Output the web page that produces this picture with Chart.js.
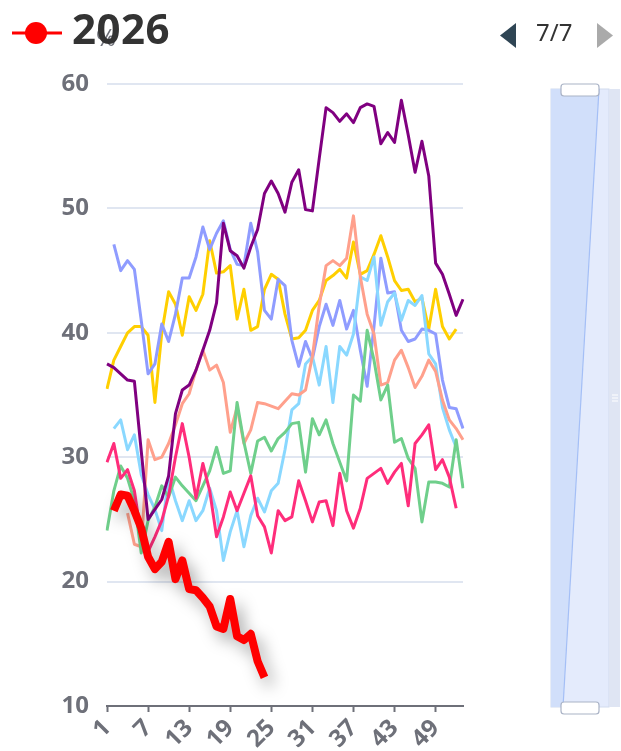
<!DOCTYPE html>
<html>
<head>
<meta charset="utf-8">
<script src="https://cdn.jsdelivr.net/npm/chart.js@4.4.1/dist/chart.umd.min.js"></script>
<style>
  body { margin: 0; background: #fff; font-family: "Noto Sans", sans-serif; }
  #wrap { position: relative; width: 621px; height: 751px; overflow: hidden; }
  #chartBox { position: absolute; left: 0; top: 0; width: 621px; height: 751px; }
  .abs { position: absolute; white-space: nowrap; }
  #axisName { left: 96px; top: 20px; font-size: 24px; color: #6E7079; }
  #legendText { left: 72px; top: -1px; font-size: 42px; font-weight: bold; color: #333; line-height: 58px; letter-spacing: 0.5px; }
  #pageInfo { left: 536px; top: 16px; font-size: 24px; color: #333; line-height: 32px; }
</style>
</head>
<body>
<div id="wrap">
  <div id="chartBox"><canvas id="myChart"></canvas></div>

  <!-- dataZoom slider on the right -->
  <svg class="abs" style="left:0;top:0" width="621" height="751">
    <rect x="551" y="89" width="58" height="618" fill="#e4ebfc" stroke="#d2dbee" stroke-width="1"/>
    <polygon points="551,89 599,89 563,707 551,707" fill="#d1dffa"/>
    <line x1="599" y1="89" x2="563" y2="707" stroke="#a4bff6" stroke-width="1.2"/>
    <rect x="609" y="89" width="11" height="618" fill="#dfe5f3"/>
    <line x1="612" y1="395" x2="618" y2="395" stroke="#fff" stroke-width="1"/>
    <line x1="612" y1="398" x2="618" y2="398" stroke="#fff" stroke-width="1"/>
    <line x1="612" y1="401" x2="618" y2="401" stroke="#fff" stroke-width="1"/>
    <rect x="561" y="84" width="38" height="12" rx="3" fill="#fff" stroke="#aab3c6" stroke-width="1.2"/>
    <rect x="561" y="702" width="38" height="12" rx="3" fill="#fff" stroke="#aab3c6" stroke-width="1.2"/>
    <!-- legend page arrows -->
    <polygon points="516,23 516,48 500,35.5" fill="#2f4554"/>
    <polygon points="597,23 597,48 613,35.5" fill="#aaaaaa"/>
    <!-- legend icon -->
    <line x1="12" y1="33" x2="62" y2="33" stroke="#ff0000" stroke-width="3"/>
    <circle cx="36" cy="33" r="11" fill="#ff0000"/>
  </svg>

  <div id="axisName" class="abs">%</div>
  <div id="legendText" class="abs">2026</div>
  <div id="pageInfo" class="abs">7/7</div>
</div>

<script>
// week numbers on the x axis
const weeks = ['1','2','3','4','5','6','7','8','9','10','11','12','13','14','15','16','17','18','19','20',
  '21','22','23','24','25','26','27','28','29','30','31','32','33','34','35','36','37','38','39','40',
  '41','42','43','44','45','46','47','48','49','50','51','52','53'];

const yTicks = [10, 20, 30, 40, 50, 60];

// series values, one per week (null = no data)
const purpleSeries = [37.5, 37.2, 36.7, 36.2, 36.1, 30.5, 25.0, 25.8, 26.6, 28.5,
  33.5, 35.4, 35.8, 37.0, 38.6, 40.2, 42.4, 48.8, 46.6, 46.2,
  45.2, 46.9, 48.3, 51.2, 52.2, 51.2, 49.7, 52.1, 53.1, 49.9,
  49.8, 54.0, 58.1, 57.7, 57.0, 57.6, 56.9, 58.1, 58.4, 58.2,
  55.2, 56.1, 55.3, 58.7, 55.9, 52.9, 55.4, 52.6, 45.6, 44.7,
  43.1, 41.4, 42.7];

const blueSeries = [null, 47.1, 45.0, 45.8, 45.1, 41.0, 36.7, 37.5, 40.7, 39.3,
  41.5, 44.4, 44.4, 46.1, 48.5, 46.7, 48.0, 49.0, 46.7, 45.5,
  45.4, 48.8, 46.5, 41.8, 41.1, 44.3, 43.8, 39.4, 37.3, 39.3,
  37.9, 40.5, 42.3, 40.6, 42.6, 40.3, 41.8, 38.6, 35.7, 40.5,
  46.0, 43.2, 43.3, 40.2, 39.3, 39.5, 40.3, 40.2, 39.9, 36.2,
  34.0, 33.9, 32.3];

const yellowSeries = [35.5, 37.8, 38.9, 40.0, 40.5, 40.5, 39.8, 34.4, 40.0, 43.3,
  42.3, 39.8, 42.9, 41.8, 43.1, 47.4, 44.8, 44.9, 45.4, 41.1,
  43.5, 40.2, 40.5, 43.5, 44.7, 44.3, 41.5, 39.5, 39.6, 40.2,
  41.8, 42.6, 44.2, 44.6, 45.1, 44.4, 47.3, 44.7, 45.0, 46.3,
  47.8, 46.1, 44.2, 43.4, 43.5, 42.5, 42.8, 40.3, 43.5, 40.5,
  39.5, 40.3, null];

const salmonSeries = [null, null, null, 25.5, 23.0, 22.8, 31.4, 29.8, 30.0, 31.1,
  32.6, 34.3, 35.1, 37.0, 38.6, 37.0, 37.4, 36.0, 32.0, 34.0,
  31.1, 32.2, 34.4, 34.3, 34.1, 33.9, 34.5, 35.1, 35.0, 35.4,
  38.1, 42.2, 45.4, 45.8, 45.4, 46.0, 49.4, 44.5, 41.5, 39.9,
  35.8, 36.0, 37.8, 38.6, 37.2, 35.6, 36.5, 37.8, 36.9, 34.6,
  33.0, 32.3, 31.4];

const lightBlueSeries = [null, 32.3, 33.0, 30.6, 31.8, 28.6, 27.0, 25.8, 24.1, 28.4,
  26.5, 24.9, 26.5, 24.9, 25.7, 27.5, 25.7, 21.7, 24.0, 25.7,
  22.8, 25.3, 26.7, 25.6, 27.3, 27.9, 30.6, 33.8, 34.3, 37.5,
  38.1, 35.8, 38.9, 34.4, 38.9, 38.2, 39.9, 44.5, 44.2, 46.1,
  40.6, 42.5, 43.2, 41.0, 42.6, 42.2, 43.0, 38.3, 37.5, 34.0,
  32.2, 30.8, null];

const greenSeries = [24.1, 27.3, 29.3, 28.3, 26.5, 22.3, 24.9, 26.0, 27.7, 26.8,
  28.4, 27.7, 27.1, 26.5, 27.7, 28.9, 30.8, 28.7, 28.9, 34.4,
  31.2, 28.7, 31.3, 31.6, 30.5, 31.5, 32.0, 32.7, 32.8, 28.8,
  33.1, 31.8, 33.0, 31.1, 29.6, 28.1, 35.0, 34.5, 40.2, 37.8,
  34.6, 35.8, 31.2, 31.5, 29.9, 29.1, 24.8, 28.0, 28.0, 27.9,
  27.6, 31.4, 27.5];

const pinkSeries = [29.6, 31.1, 28.3, 29.0, 27.3, 23.6, 22.4, 23.6, 24.9, 26.9,
  30.0, 32.7, 30.0, 26.7, 29.5, 27.3, 23.6, 25.2, 27.2, 25.7,
  27.1, 28.5, 25.3, 24.4, 22.3, 25.7, 24.9, 25.2, 28.1, 26.5,
  24.8, 26.4, 26.5, 24.5, 28.7, 25.7, 24.3, 25.9, 28.3, 28.7,
  29.1, 27.9, 28.8, 29.5, 26.1, 31.1, 31.8, 32.6, 29.0, 29.8,
  28.4, 25.9, null];

const series2026 = [null, 25.7, 27.0, 26.9, 25.7, 24.3, 22.0, 21.0, 21.6, 23.2,
  20.2, 21.7, 19.4, 19.3, 18.7, 18.0, 16.4, 16.2, 18.6, 15.6,
  15.3, 15.8, 13.6, 12.3];

function makeLine(label, values, color, width, order) {
  return {
    label: label,
    data: values,
    borderColor: color,
    backgroundColor: color,
    borderWidth: width,
    pointRadius: 0,
    pointHoverRadius: 0,
    tension: 0,
    fill: false,
    borderJoinStyle: 'round',
    order: order
  };
}

const datasets = [
  makeLine('2026', series2026, '#ff0000', 8, 0),
  makeLine('purple', purpleSeries, '#800080', 3, 1),
  makeLine('pink', pinkSeries, '#ff2d7b', 3, 2),
  makeLine('green', greenSeries, '#6fcf8b', 3, 3),
  makeLine('salmon', salmonSeries, '#ffa08c', 3, 4),
  makeLine('lightblue', lightBlueSeries, '#8ad8ff', 3, 5),
  makeLine('blue', blueSeries, '#8f9cff', 3, 6),
  makeLine('yellow', yellowSeries, '#ffcf00', 3, 7)
];

// soft shadow under the 2026 line
const shadowPlugin = {
  id: 'lineShadow',
  beforeDatasetDraw(chart, args) {
    if (chart.data.datasets[args.index].label !== '2026') return;
    const ctx = chart.ctx;
    ctx.save();
    ctx.shadowColor = 'rgba(0,0,0,0.35)';
    ctx.shadowBlur = 16;
    ctx.shadowOffsetX = 6;
    ctx.shadowOffsetY = 8;
  },
  afterDatasetDraw(chart, args) {
    if (chart.data.datasets[args.index].label !== '2026') return;
    chart.ctx.restore();
  }
};

const tickFont = { family: '"Noto Sans", sans-serif', size: 24, weight: 'bold' };

const config = {
  type: 'line',
  data: { labels: weeks, datasets: datasets },
  options: {
    responsive: true,
    maintainAspectRatio: false,
    animation: false,
    layout: { padding: { top: 84, right: 158, bottom: 0, left: 0 } },
    plugins: {
      legend: { display: false },
      tooltip: { enabled: false }
    },
    scales: {
      x: {
        type: 'category',
        offset: false,
        grid: {
          display: true,
          drawOnChartArea: false,
          drawTicks: true,
          tickLength: 6,
          tickWidth: 2,
          tickColor: (ctx) => (ctx.index % 6 === 0 ? '#6E7079' : 'rgba(0,0,0,0)')
        },
        border: { display: true, color: '#6E7079', width: 2 },
        ticks: {
          autoSkip: false,
          maxRotation: 45,
          minRotation: 45,
          padding: 2,
          color: '#6E7079',
          font: tickFont,
          callback: function (val, idx) {
            return idx % 6 === 0 ? this.getLabelForValue(val) : '';
          }
        },
        afterFit: (scale) => { scale.height = 45; }
      },
      y: {
        min: yTicks[0],
        max: yTicks[yTicks.length - 1],
        afterBuildTicks: (scale) => { scale.ticks = yTicks.map(v => ({ value: v })); },
        grid: { color: '#E0E6F1', lineWidth: 2, drawTicks: false },
        border: { display: false },
        ticks: { padding: 18, color: '#6E7079', font: tickFont },
        afterFit: (scale) => { scale.width = 107; }
      }
    }
  },
  plugins: [shadowPlugin]
};

const myChart = new Chart(document.getElementById('myChart'), config);
</script>
</body>
</html>
